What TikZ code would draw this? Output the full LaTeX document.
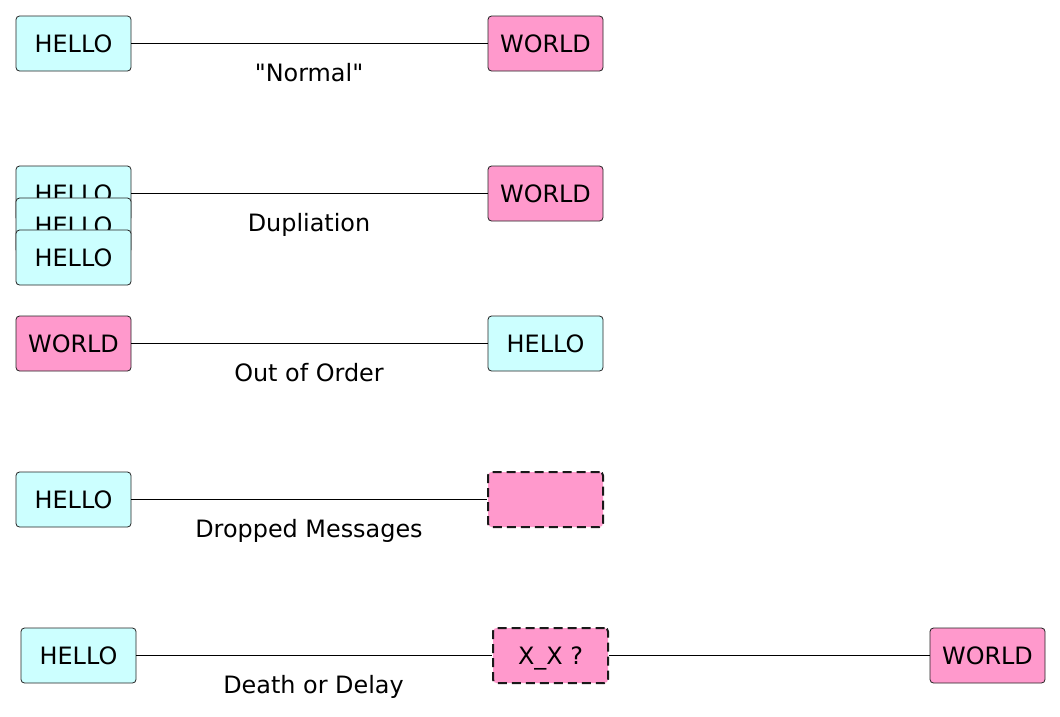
\documentclass[tikz,border=0pt]{standalone}
\usepackage{fontspec}
\setmainfont{DejaVu Sans}[Ligatures=TeXOff]
\definecolor{hellofill}{HTML}{CCFFFF}
\definecolor{worldfill}{HTML}{FF99CC}
\definecolor{edgegray}{HTML}{222222}
\begin{document}
\begin{tikzpicture}[x=1pt,y=-1pt,
  box/.style={draw=edgegray, line width=0.8pt, rounded corners=3.5pt, minimum width=115pt, minimum height=55pt, inner sep=0pt, text height=17pt, text depth=0pt, font=\fontsize{23.9}{28}\selectfont},
  hellobox/.style={box, fill=hellofill},
  worldbox/.style={box, fill=worldfill},
  lostbox/.style={box, fill=worldfill, dash pattern=on 9pt off 5pt, line width=2pt, draw=black!90},
  lbl/.style={anchor=base, inner sep=0pt, font=\fontsize{23.9}{28}\selectfont},
  conn/.style={draw=black, line width=0.9pt}]
\useasboundingbox (0,0) rectangle (1060,716);
% row 1
\node[hellobox] (h1) at (73.5,43.5) {HELLO};
\node[worldbox] (w1) at (545.5,43.5) {WORLD};
\draw[conn] (h1) -- (w1);
\node[lbl] (l1) at (309,81.5) {"Normal"};
% row 2
\node[hellobox] (h2a) at (73.5,193.5) {HELLO};
\node[hellobox] (h2b) at (73.5,225.5) {HELLO};
\node[hellobox] (h2c) at (73.5,257.5) {HELLO};
\node[worldbox] (w2) at (545.5,193.5) {WORLD};
\draw[conn] (h2a) -- (w2);
\node[lbl] (l2) at (309,231.5) {Dupliation};
% row 3
\node[worldbox] (w3) at (73.5,343.5) {WORLD};
\node[hellobox] (h3) at (545.5,343.5) {HELLO};
\draw[conn] (w3) -- (h3);
\node[lbl] (l3) at (309,381.5) {Out of Order};
% row 4
\node[hellobox] (h4) at (73.5,499.5) {HELLO};
\node[lostbox] (x4) at (545.5,499.5) {};
\draw[conn] (h4) -- (x4);
\node[lbl] (l4) at (309,537.5) {Dropped Messages};
% row 5
\node[hellobox] (h5) at (78.5,655.5) {HELLO};
\node[lostbox] (x5) at (550.5,655.5) {X\_X ?};
\node[worldbox] (w5) at (987.5,655.5) {WORLD};
\draw[conn] (h5) -- (x5);
\draw[conn] (x5) -- (w5);
\node[lbl] (l5) at (313.5,693.5) {Death or Delay};
\end{tikzpicture}
\end{document}
